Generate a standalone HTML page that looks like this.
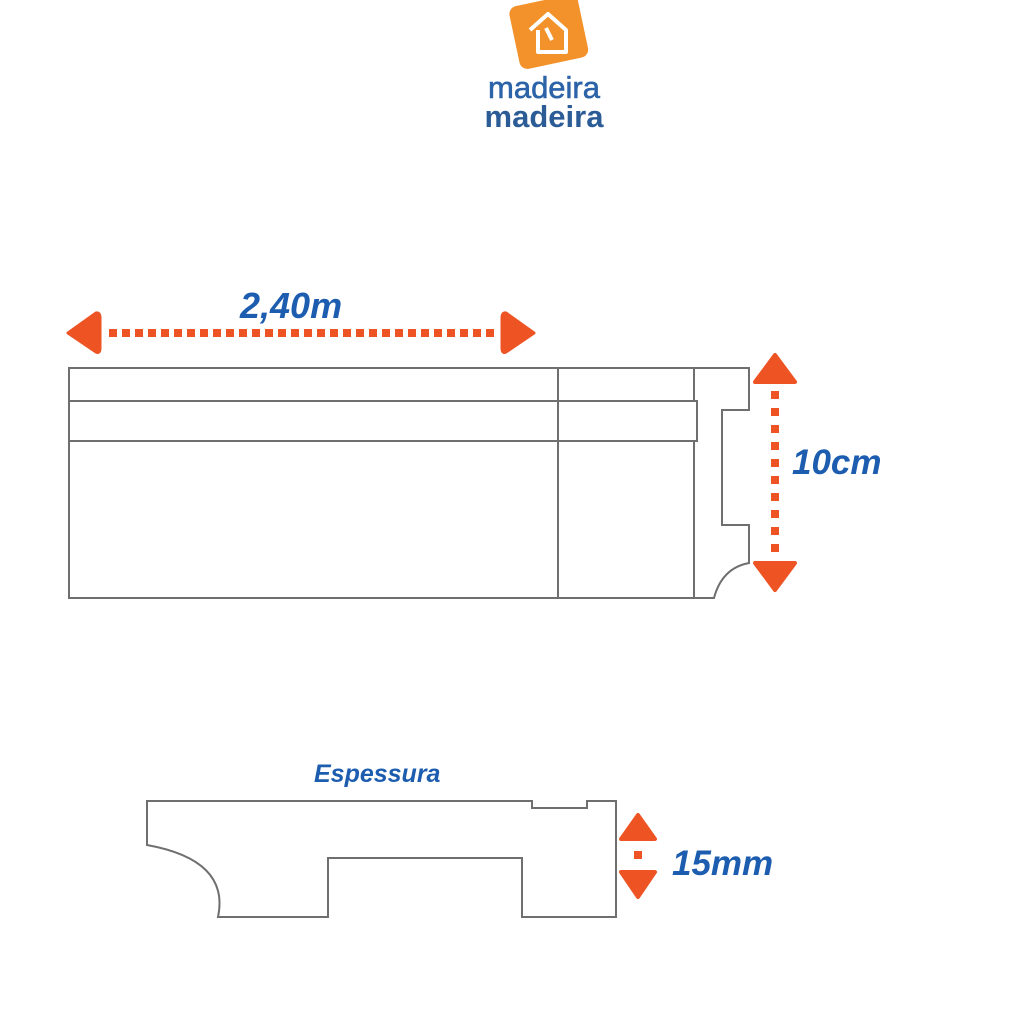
<!DOCTYPE html>
<html><head><meta charset="utf-8"><style>
html,body{margin:0;padding:0;background:#fff;}
svg{display:block;}
</style></head><body>
<svg width="1024" height="1024" viewBox="0 0 1024 1024" xmlns="http://www.w3.org/2000/svg">
<rect width="1024" height="1024" fill="#fff"/>
<!-- logo -->
<g transform="rotate(-12 548 33)">
<rect x="514" y="0" width="70" height="64" rx="8" fill="#f3922a"/>
</g>
<path d="M530 30 L548 14 L566 30 L566 52 L538 52 L538 30 M546 28 L552 40" fill="none" stroke="#fff" stroke-width="4" stroke-linejoin="round"/>
<text x="544" y="98" font-family="Liberation Sans, sans-serif" font-size="31" fill="#2c63a8" text-anchor="middle" stroke="#2c63a8" stroke-width="0.6">madeira</text>
<text x="544" y="127" font-family="Liberation Sans, sans-serif" font-size="31" font-weight="bold" fill="#2c5c96" text-anchor="middle">madeira</text>

<g font-family="Liberation Sans, sans-serif" font-weight="bold" font-style="italic" fill="#1c5db0">
<text x="240" y="318" font-size="36">2,40m</text>
<text x="792" y="474" font-size="35">10cm</text>
<text x="672" y="875" font-size="35">15mm</text>
<text x="314" y="782" font-size="25">Espessura</text>
</g>

<g fill="none" stroke="#6f6f6f" stroke-width="2">
<path d="M69 368 H749 V410 H722 V525 H749 V563 Q722 568 714 598 H69 Z"/>
<path d="M69 401 H697 V441 H69"/>
<path d="M558 368 V598"/>
<path d="M694 368 V401 M694 441 V598"/>
<path d="M147 801 H532 V808 H587 V801 H616 V917 H522 V858 H328 V917 H218 Q230 860 147 845 Z"/>
</g>

<g fill="#ee5423">
<path d="M68 333 L96 313 Q100 312 100 318 V348 Q100 354 96 352 Z" stroke="#ee5423" stroke-linejoin="round" stroke-width="3"/>
<path d="M534 333 L506 313 Q502 312 502 318 V348 Q502 354 506 352 Z" stroke="#ee5423" stroke-linejoin="round" stroke-width="3"/>
<g>
<rect x="109" y="329" width="8" height="8"/><rect x="122" y="329" width="8" height="8"/><rect x="135" y="329" width="8" height="8"/><rect x="148" y="329" width="8" height="8"/><rect x="161" y="329" width="8" height="8"/><rect x="174" y="329" width="8" height="8"/><rect x="187" y="329" width="8" height="8"/><rect x="200" y="329" width="8" height="8"/><rect x="213" y="329" width="8" height="8"/><rect x="226" y="329" width="8" height="8"/><rect x="239" y="329" width="8" height="8"/><rect x="252" y="329" width="8" height="8"/><rect x="265" y="329" width="8" height="8"/><rect x="278" y="329" width="8" height="8"/><rect x="291" y="329" width="8" height="8"/><rect x="304" y="329" width="8" height="8"/><rect x="317" y="329" width="8" height="8"/><rect x="330" y="329" width="8" height="8"/><rect x="343" y="329" width="8" height="8"/><rect x="356" y="329" width="8" height="8"/><rect x="369" y="329" width="8" height="8"/><rect x="382" y="329" width="8" height="8"/><rect x="395" y="329" width="8" height="8"/><rect x="408" y="329" width="8" height="8"/><rect x="421" y="329" width="8" height="8"/><rect x="434" y="329" width="8" height="8"/><rect x="447" y="329" width="8" height="8"/><rect x="460" y="329" width="8" height="8"/><rect x="473" y="329" width="8" height="8"/><rect x="486" y="329" width="8" height="8"/>
</g>
<path d="M775 355 L795 382 H755 Z" stroke="#ee5423" stroke-linejoin="round" stroke-width="4"/>
<path d="M775 590 L795 563 H755 Z" stroke="#ee5423" stroke-linejoin="round" stroke-width="4"/>
<rect x="771" y="391" width="8" height="8"/><rect x="771" y="408" width="8" height="8"/><rect x="771" y="425" width="8" height="8"/><rect x="771" y="442" width="8" height="8"/><rect x="771" y="459" width="8" height="8"/><rect x="771" y="476" width="8" height="8"/><rect x="771" y="493" width="8" height="8"/><rect x="771" y="510" width="8" height="8"/><rect x="771" y="527" width="8" height="8"/><rect x="771" y="544" width="8" height="8"/>
<path d="M638 815 L655 839 H621 Z" stroke="#ee5423" stroke-linejoin="round" stroke-width="4"/>
<path d="M638 897 L655 872 H621 Z" stroke="#ee5423" stroke-linejoin="round" stroke-width="4"/>
<rect x="634" y="851" width="8" height="8"/>
</g>
</svg>
</body></html>
